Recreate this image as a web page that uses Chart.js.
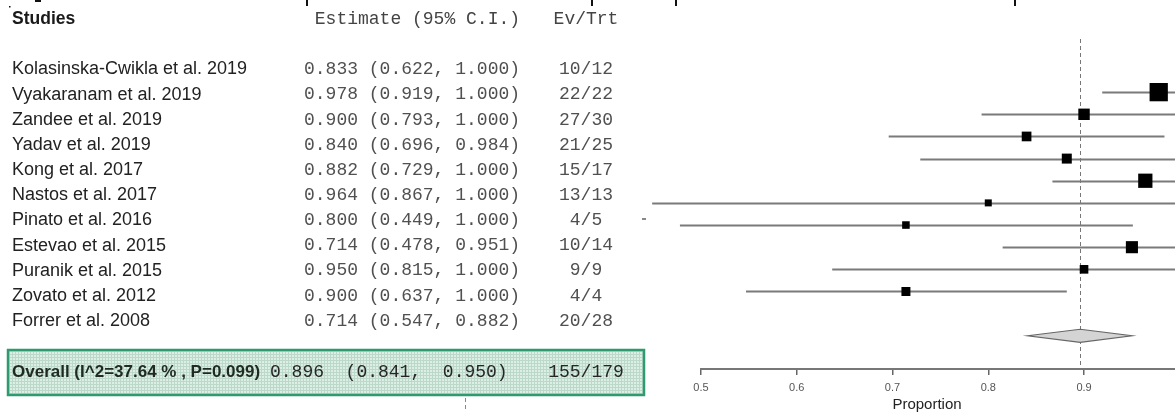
<!DOCTYPE html>
<html>
<head>
<meta charset="utf-8">
<title>Forest plot of pooled proportion</title>
<script src="https://cdn.jsdelivr.net/npm/chart.js@4/dist/chart.umd.min.js"></script>
<style>
  html, body { margin: 0; padding: 0; background: #ffffff; }
  #wrap { position: relative; width: 1175px; height: 412px; overflow: hidden; }
  canvas { display: block; }
</style>
</head>
<body>
<div id="wrap"><canvas id="forest" width="1175" height="412"></canvas></div>
<script>
// ---- study data ----
const studies = [
  'Kolasinska-Cwikla et al. 2019',
  'Vyakaranam et al. 2019',
  'Zandee et al. 2019',
  'Yadav et al. 2019',
  'Kong et al. 2017',
  'Nastos et al. 2017',
  'Pinato et al. 2016',
  'Estevao et al. 2015',
  'Puranik et al. 2015',
  'Zovato et al. 2012',
  'Forrer et al. 2008'
];
const estimates = [0.833, 0.978, 0.900, 0.840, 0.882, 0.964, 0.800, 0.714, 0.950, 0.900, 0.714];
const lowerCI   = [0.622, 0.919, 0.793, 0.696, 0.729, 0.867, 0.449, 0.478, 0.815, 0.637, 0.547];
const upperCI   = [1.000, 1.000, 1.000, 0.984, 1.000, 1.000, 1.000, 0.951, 1.000, 1.000, 0.882];
const events    = [10, 22, 27, 21, 15, 13, 4, 10, 9, 4, 20];
const treated   = [12, 22, 30, 25, 17, 13, 5, 14, 9, 4, 28];

// pooled result
const overallEstimate = 0.896;
const overallCI = [0.841, 0.950];
const overallEvents = 155;
const overallTreated = 179;
const heterogeneityI2 = 37.64;
const heterogeneityP = 0.099;

// x axis tick labels
const xTicks = [0.5, 0.6, 0.7, 0.8, 0.9];
const xTitle = 'Proportion';

// the plot panel starts with the second study row
const firstPlottedRow = 1;

// ---- layout ----
const SANS = "'Liberation Sans', Arial, sans-serif";
const MONO = "'Liberation Mono', 'Courier New', monospace";
const TABLE = { nameX: 12, estX: 304, evX: 586, headY: 19, firstY: 69.5, step: 25.15 };
const OVERALL_BOX = { x: 8, y: 350, w: 636, h: 45 };
const POOLED_ROW = studies.length + 1;   // diamond sits one empty row below the last study

const fmt = v => v.toFixed(3);

const plottedRows = studies.map((_, i) => i).filter(i => i >= firstPlottedRow);

// square marker side grows with study precision (narrower interval -> bigger box)
const markerSide = i => 5.2 / Math.sqrt(upperCI[i] - lowerCI[i]);

function dottedFill(ctx) {
  const tile = document.createElement('canvas');
  tile.width = 3; tile.height = 3;
  const t = tile.getContext('2d');
  t.fillStyle = '#dcefe5';
  t.fillRect(0, 0, 3, 3);
  t.fillStyle = '#bcd8ca';
  t.fillRect(0, 0, 3, 1);
  t.fillRect(0, 0, 1, 3);
  return ctx.createPattern(tile, 'repeat');
}

const tablePlugin = {
  id: 'studyTable',
  afterDraw(chart) {
    const ctx = chart.ctx;
    ctx.save();

    // clipped descenders of the caption line above the figure
    ctx.fillStyle = '#111';
    [[306, 2], [591, 2], [675, 2], [1014, 2]].forEach(([x, w]) => ctx.fillRect(x, 0, w, 6));
    ctx.fillRect(35, 0, 6, 2);
    ctx.fillRect(9, 6, 1.5, 1.5);

    ctx.textBaseline = 'middle';

    // header
    ctx.fillStyle = '#1a1a1a';
    ctx.font = `bold 17.5px ${SANS}`;
    ctx.textAlign = 'left';
    ctx.fillText('Studies', TABLE.nameX, TABLE.headY);
    ctx.font = `18px ${MONO}`;
    ctx.fillStyle = '#444';
    ctx.fillText(' Estimate (95% C.I.)', TABLE.estX, TABLE.headY);
    ctx.textAlign = 'center';
    ctx.fillText('Ev/Trt', TABLE.evX, TABLE.headY);

    // study rows
    studies.forEach((name, i) => {
      const y = TABLE.firstY + i * TABLE.step;
      ctx.textAlign = 'left';
      ctx.fillStyle = '#222';
      ctx.font = `18px ${SANS}`;
      ctx.fillText(name, TABLE.nameX, y);
      ctx.fillStyle = '#505050';
      ctx.font = `18px ${MONO}`;
      ctx.fillText(`${fmt(estimates[i])} (${fmt(lowerCI[i])}, ${fmt(upperCI[i])})`, TABLE.estX, y);
      ctx.textAlign = 'center';
      ctx.fillText(`${events[i]}/${treated[i]}`, TABLE.evX, y);
    });

    // pooled row in a shaded box
    const b = OVERALL_BOX;
    ctx.fillStyle = dottedFill(ctx);
    ctx.fillRect(b.x, b.y, b.w, b.h);
    ctx.strokeStyle = '#2f9a70';
    ctx.lineWidth = 2.5;
    ctx.strokeRect(b.x, b.y, b.w, b.h);
    const oy = b.y + b.h / 2;
    ctx.textAlign = 'left';
    ctx.fillStyle = '#1e2a22';
    ctx.font = `bold 17px ${SANS}`;
    ctx.fillText(`Overall (I^2=${heterogeneityI2} % , P=${heterogeneityP})`, 12, oy);
    ctx.font = `18px ${MONO}`;
    ctx.fillStyle = '#262626';
    ctx.fillText(`${fmt(overallEstimate)}  (${fmt(overallCI[0])},  ${fmt(overallCI[1])})`, 270, oy);
    ctx.textAlign = 'center';
    ctx.fillText(`${overallEvents}/${overallTreated}`, 586, oy);

    // dashed reference line continuing below the table
    ctx.strokeStyle = '#888';
    ctx.lineWidth = 1;
    ctx.setLineDash([4, 3]);
    ctx.beginPath();
    ctx.moveTo(465.5, 398);
    ctx.lineTo(465.5, 412);
    ctx.stroke();
    ctx.setLineDash([]);

    // small stray tick left of the plot panel
    ctx.fillStyle = '#888';
    ctx.fillRect(642, 218, 4, 2);

    // x axis title
    ctx.fillStyle = '#222';
    ctx.font = `15px ${SANS}`;
    ctx.textAlign = 'center';
    ctx.fillText(xTitle, 927, 405);
    ctx.restore();
  }
};

const forestPlugin = {
  id: 'forestMarks',
  beforeDatasetsDraw(chart) {
    const ctx = chart.ctx;
    const xs = chart.scales.x, ys = chart.scales.y;
    const area = chart.chartArea;
    ctx.save();

    // dashed line at the pooled estimate
    const xo = Math.round(xs.getPixelForValue(overallEstimate)) + 0.5;
    ctx.strokeStyle = '#777';
    ctx.lineWidth = 1;
    ctx.setLineDash([4, 3]);
    ctx.beginPath();
    ctx.moveTo(xo, area.top);
    ctx.lineTo(xo, area.bottom);
    ctx.stroke();
    ctx.setLineDash([]);

    // confidence intervals
    ctx.strokeStyle = '#7a7a7a';
    ctx.lineWidth = 2;
    plottedRows.forEach(i => {
      const y = Math.round(ys.getPixelForValue(i)) + 0.5;
      ctx.beginPath();
      ctx.moveTo(xs.getPixelForValue(lowerCI[i]), y);
      ctx.lineTo(xs.getPixelForValue(upperCI[i]), y);
      ctx.stroke();
    });

    // pooled diamond
    const yd = ys.getPixelForValue(POOLED_ROW);
    const half = 6.5;
    ctx.beginPath();
    ctx.moveTo(xs.getPixelForValue(overallCI[0]), yd);
    ctx.lineTo(xs.getPixelForValue(overallEstimate), yd - half);
    ctx.lineTo(xs.getPixelForValue(overallCI[1]), yd);
    ctx.lineTo(xs.getPixelForValue(overallEstimate), yd + half);
    ctx.closePath();
    ctx.fillStyle = '#d4d4d4';
    ctx.fill();
    ctx.strokeStyle = '#666';
    ctx.lineWidth = 1.2;
    ctx.stroke();
    ctx.restore();
  }
};

new Chart(document.getElementById('forest'), {
  type: 'scatter',
  data: {
    datasets: [{
      data: plottedRows.map(i => ({ x: estimates[i], y: i })),
      pointStyle: 'rect',
      pointRadius: plottedRows.map(i => markerSide(i) / Math.SQRT2),
      pointHoverRadius: plottedRows.map(i => markerSide(i) / Math.SQRT2),
      backgroundColor: '#000',
      borderColor: '#000',
      borderWidth: 0,
      clip: false
    }]
  },
  options: {
    responsive: false,
    animation: false,
    devicePixelRatio: 1,
    layout: { autoPadding: false, padding: { left: 701, top: 39, right: 0, bottom: 0 } },
    plugins: { legend: { display: false }, tooltip: { enabled: false } },
    events: [],
    scales: {
      x: {
        type: 'linear',
        min: 0.5,
        max: 0.995,
        afterBuildTicks: scale => { scale.ticks = xTicks.map(v => ({ value: v })); },
        afterFit: scale => { scale.height = 43; },
        grid: { display: true, drawOnChartArea: false, drawTicks: true, tickLength: 6, color: '#666', lineWidth: 1.5 },
        border: { display: true, color: '#777', width: 2 },
        ticks: { color: '#555', font: { family: SANS, size: 11 }, padding: 6, callback: v => String(v) },
        title: { display: false }
      },
      y: {
        type: 'linear',
        reverse: true,
        min: -1.4,
        max: 13.5,
        display: false
      }
    }
  },
  plugins: [forestPlugin, tablePlugin]
});
</script>
</body>
</html>
